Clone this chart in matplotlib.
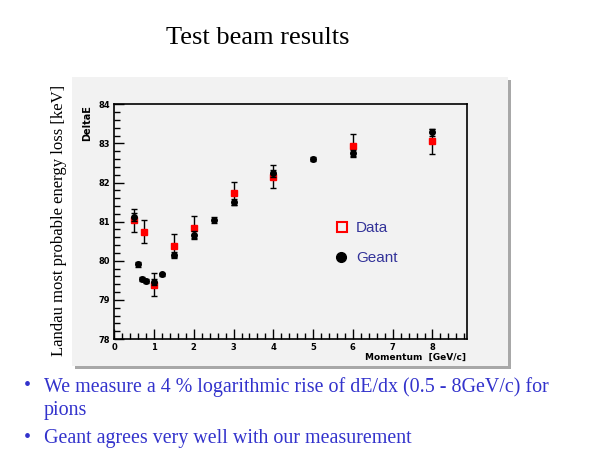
import matplotlib
matplotlib.use("Agg")
import matplotlib.pyplot as plt
from matplotlib.patches import Rectangle
from matplotlib.ticker import MultipleLocator

# ---- data ----
data_p = [0.5, 0.75, 1.0, 1.5, 2.0, 3.0, 4.0, 6.0, 8.0]
data_e = [81.03, 80.74, 79.39, 80.39, 80.85, 81.72, 82.15, 82.94, 83.05]
data_err = [0.29, 0.29, 0.30, 0.30, 0.30, 0.30, 0.30, 0.30, 0.31]

geant_p = [0.5, 0.6, 0.7, 0.8, 1.0, 1.2, 1.5, 2.0, 2.5, 3.0, 4.0, 5.0, 6.0, 8.0]
geant_e = [81.11, 79.91, 79.54, 79.49, 79.46, 79.65, 80.14, 80.66, 81.04, 81.51, 82.24, 82.59, 82.75, 83.28]
geant_err = [0.10, 0.06, 0.05, 0.05, 0.08, 0.05, 0.08, 0.09, 0.07, 0.08, 0.09, 0.05, 0.08, 0.08]

title = "Test beam results"
ylabel = "Landau most probable energy loss [keV]"
bullet_lines = ["We measure a 4 % logarithmic rise of dE/dx (0.5 - 8GeV/c) for",
                "pions",
                "Geant agrees very well with our measurement"]

W, H = 600, 450
fig = plt.figure(figsize=(6, 4.5), dpi=100)
fig.patch.set_facecolor("white")

def fx(px): return px / W
def fy(py): return 1 - py / H

# grey panel with shadow
fig.patches.append(Rectangle((fx(75), fy(369)), fx(508) - fx(72), fy(77) - fy(366),
                             transform=fig.transFigure, facecolor="#a8a8a8", edgecolor="none", zorder=-2))
fig.patches.append(Rectangle((fx(72), fy(366)), fx(508) - fx(72), fy(77) - fy(366),
                             transform=fig.transFigure, facecolor="#f2f2f2", edgecolor="none", zorder=-1))

ax = fig.add_axes([fx(114.2), fy(339), fx(466.7) - fx(114.2), fy(104.3) - fy(339)])
ax.set_zorder(2)
ax.set_facecolor("#f2f2f2")
ax.set_xlim(0, 8.86)
ax.set_ylim(78, 84)
for s in ["top", "right", "left", "bottom"]:
    ax.spines[s].set_linewidth(1.2)
    ax.spines[s].set_color("black")

ax.xaxis.set_major_locator(MultipleLocator(1))
ax.xaxis.set_minor_locator(MultipleLocator(0.2))
ax.yaxis.set_major_locator(MultipleLocator(1))
ax.yaxis.set_minor_locator(MultipleLocator(0.2))
ax.tick_params(which="both", direction="in", top=False, right=False, width=1, color="black")
ax.tick_params(which="major", length=7)
ax.tick_params(which="minor", length=4)
ax.tick_params(axis="both", labelsize=6, pad=3)
for lab in ax.get_xticklabels() + ax.get_yticklabels():
    lab.set_fontweight("bold")

ax.errorbar(data_p, data_e, yerr=data_err, fmt="s", color="red", ecolor="black",
            elinewidth=1, capsize=2, capthick=1, markersize=5, zorder=3)
ax.errorbar(geant_p, geant_e, yerr=geant_err, fmt="o", color="black", ecolor="black",
            elinewidth=1, capsize=2, capthick=1, markersize=4, zorder=4)

# legend (drawn manually in figure coords)
fig.add_artist(plt.Line2D([fx(342)], [fy(227)], marker="s", markersize=7, markerfacecolor="none",
                          markeredgecolor="red", markeredgewidth=1.5, transform=fig.transFigure, zorder=5))
fig.add_artist(plt.Line2D([fx(341)], [fy(257)], marker="o", markersize=7, markerfacecolor="black",
                          markeredgecolor="black", transform=fig.transFigure, zorder=5))
fig.text(fx(356), fy(228), "Data", color="#333399", fontsize=11, family="Liberation Sans",
         va="center", ha="left", zorder=5)
fig.text(fx(356), fy(258), "Geant", color="#333399", fontsize=11, family="Liberation Sans",
         va="center", ha="left", zorder=5)

fig.text(fx(87), fy(105), "DeltaE", rotation=90, fontsize=7, fontweight="bold", ha="center", va="top")
fig.text(fx(466), fy(357), "Momentum  [GeV/c]", fontsize=6.5, fontweight="bold", ha="right", va="center")

fig.text(fx(258), fy(38), title, fontsize=19, family="Liberation Serif", ha="center", va="center")
fig.text(fx(59), fy(220), ylabel, rotation=90, fontsize=12, family="Liberation Serif", ha="center", va="center")

blue = "#3333cc"
ys = [387, 410, 438]
for y, line in zip(ys, bullet_lines):
    fig.text(fx(44), fy(y), line, color=blue, fontsize=14.4, family="Liberation Serif", ha="left", va="center")
for y in (387, 438):
    fig.text(fx(24), fy(y), "\u2022", color=blue, fontsize=14.4, family="Liberation Serif", ha="left", va="center")

fig.savefig("out.png", dpi=100)
